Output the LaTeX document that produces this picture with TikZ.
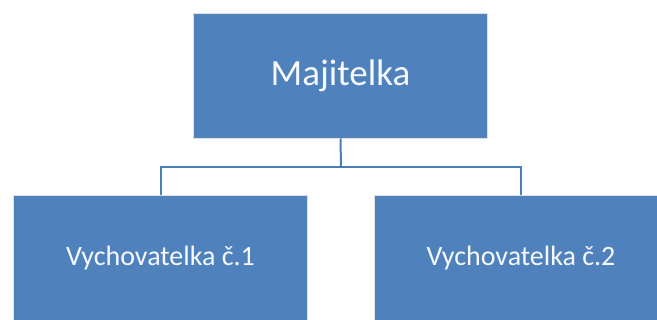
\documentclass[tikz,border=0pt]{standalone}
\usepackage{fontspec}
\setmainfont{Carlito}
\definecolor{boxblue}{HTML}{4F81BD}
\definecolor{lineblue}{HTML}{4A7EBB}
\begin{document}
\begin{tikzpicture}[x=1pt,y=-1pt,
  orgbox/.style={fill=boxblue, draw=black!12, line width=0.8pt, text=white!95!boxblue, minimum width=294pt, minimum height=125pt, inner sep=0pt},
  conn/.style={draw=lineblue, line width=2pt}]
\useasboundingbox (0,0) rectangle (657,320);
\clip (0,0) rectangle (657,320);
\node[orgbox, font=\fontsize{37}{44}\selectfont] (top) at (340.5,75.5) {Majitelka};
\node[orgbox, font=\fontsize{28}{34}\selectfont] (left) at (160.5,258) {Vychovatelka č.1};
\node[orgbox, font=\fontsize{28}{34}\selectfont] (right) at (521,258) {Vychovatelka č.2};
\coordinate (mid) at (341,167);
\draw[conn] (top.south) -- (mid);
\draw[conn] (left.north) |- (mid) -| (right.north);
\end{tikzpicture}
\end{document}
